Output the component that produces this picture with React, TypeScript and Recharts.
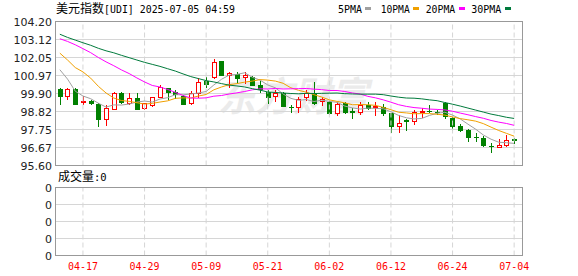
import React from 'react';
import { ComposedChart, Bar, Line, XAxis, YAxis, CartesianGrid, ReferenceLine } from 'recharts';

const dates = [
  '04-14','04-15','04-16','04-17','04-18','04-21','04-22','04-23','04-24','04-25','04-28','04-29','04-30',
  '05-01','05-02','05-05','05-06','05-07','05-08','05-09','05-12','05-13','05-14','05-15','05-16','05-19','05-20','05-21','05-22','05-23','05-26','05-27','05-28','05-29','05-30',
  '06-02','06-03','06-04','06-05','06-06','06-09','06-10','06-11','06-12','06-13','06-16','06-17','06-18','06-19','06-20','06-23','06-24','06-25','06-26','06-27','06-30',
  '07-01','07-02','07-03','07-04',
];
const opens = [
  100.15, 99.77, 100.17, 99.38, 99.47, 99.28, 98.39, 98.98, 99.91, 99.35,
  99.62, 99.02, 99.22, 99.71, 100.20, 99.97, 99.77, 99.35, 99.91, 100.66,
  100.86, 101.83, 100.99, 101.06, 100.86, 100.90, 100.40, 100.01, 99.75, 99.95,
  99.11, 99.08, 99.67, 99.91, 99.47, 99.41, 98.73, 99.35, 98.84, 98.82,
  99.22, 99.08, 99.08, 98.73, 97.93, 98.30, 98.23, 98.80, 98.86, 98.82,
  99.32, 98.43, 97.97, 97.73, 97.32, 97.24, 96.76, 96.72, 96.85, 97.16,
];
const highs = [
  100.22, 100.24, 100.22, 99.77, 99.52, 99.32, 99.22, 100.00, 99.98, 99.95,
  99.90, 99.35, 99.70, 100.40, 100.25, 100.08, 99.84, 100.05, 100.80, 100.86,
  101.99, 101.86, 101.17, 101.17, 101.17, 100.95, 100.66, 100.08, 100.11, 100.00,
  99.22, 99.67, 100.11, 100.56, 99.70, 99.45, 99.40, 99.41, 99.02, 99.41,
  99.41, 99.41, 99.30, 98.76, 98.62, 98.37, 98.90, 99.02, 99.22, 98.90,
  99.41, 98.50, 98.10, 97.80, 97.54, 97.35, 96.95, 97.18, 97.42, 97.24,
];
const lows = [
  99.26, 99.56, 99.25, 99.28, 99.28, 97.93, 98.03, 98.95, 99.33, 99.30,
  98.95, 98.98, 99.18, 99.68, 99.56, 99.65, 99.26, 99.26, 99.71, 100.27,
  100.80, 100.98, 100.30, 100.60, 100.50, 100.38, 100.00, 99.35, 99.47, 99.14,
  98.78, 98.82, 99.50, 99.30, 99.20, 98.68, 98.60, 98.72, 98.43, 98.70,
  98.95, 98.60, 98.60, 97.63, 97.63, 97.73, 98.10, 98.52, 98.80, 98.70,
  98.45, 97.73, 97.68, 97.04, 97.04, 96.78, 96.39, 96.70, 96.76, 96.95,
];
const closes = [
  99.77, 100.17, 99.28, 99.43, 99.32, 98.39, 99.02, 99.95, 99.38, 99.62,
  98.98, 99.32, 99.67, 100.27, 100.01, 99.87, 99.28, 99.91, 100.60, 100.46,
  101.79, 101.00, 101.13, 100.80, 101.00, 100.40, 100.17, 99.67, 99.95, 99.16,
  99.08, 99.57, 99.95, 99.35, 99.55, 98.73, 99.28, 98.82, 98.82, 99.22,
  99.02, 99.16, 98.73, 97.93, 98.13, 98.28, 98.82, 98.88, 98.84, 98.80,
  98.57, 97.97, 97.73, 97.30, 97.30, 96.80, 96.74, 96.80, 97.14, 97.12,
];
const ma5 = [
  101.32, 100.76, 100.04, 99.75, 99.59, 99.32, 99.09, 99.22, 99.21, 99.27,
  99.39, 99.45, 99.39, 99.57, 99.65, 99.83, 99.82, 99.87, 99.93, 100.02,
  100.41, 100.75, 101.00, 101.04, 101.14, 100.87, 100.70, 100.41, 100.24, 99.87,
  99.61, 99.49, 99.54, 99.42, 99.50, 99.43, 99.37, 99.15, 99.04, 98.97,
  99.03, 99.01, 98.99, 98.81, 98.59, 98.45, 98.38, 98.41, 98.59, 98.72,
  98.78, 98.61, 98.38, 98.07, 97.77, 97.42, 97.17, 96.99, 96.96, 96.92,
];
const ma10 = [
  102.31, 101.90, 101.45, 101.19, 100.82, 100.33, 99.93, 99.63, 99.48, 99.43,
  99.35, 99.27, 99.31, 99.39, 99.46, 99.61, 99.64, 99.63, 99.75, 99.84,
  100.12, 100.29, 100.43, 100.49, 100.58, 100.64, 100.73, 100.70, 100.64, 100.51,
  100.24, 100.09, 99.98, 99.83, 99.69, 99.52, 99.43, 99.34, 99.23, 99.24,
  99.23, 99.19, 99.07, 98.93, 98.78, 98.74, 98.69, 98.70, 98.70, 98.66,
  98.61, 98.50, 98.40, 98.33, 98.25, 98.10, 97.89, 97.69, 97.52, 97.35,
];
const ma20 = [
  103.17, 103.01, 102.81, 102.58, 102.34, 102.05, 101.79, 101.56, 101.31, 101.09,
  100.83, 100.59, 100.38, 100.29, 100.14, 99.97, 99.78, 99.63, 99.62, 99.64,
  99.74, 99.78, 99.87, 99.94, 100.02, 100.12, 100.18, 100.17, 100.20, 100.17,
  100.18, 100.19, 100.20, 100.16, 100.13, 100.08, 100.08, 100.02, 99.93, 99.87,
  99.73, 99.64, 99.52, 99.38, 99.23, 99.13, 99.06, 99.02, 98.97, 98.95,
  98.92, 98.84, 98.73, 98.63, 98.52, 98.42, 98.29, 98.19, 98.11, 98.00,
];
const ma30 = [
  103.44, 103.25, 103.09, 102.93, 102.78, 102.60, 102.45, 102.33, 102.18, 102.04,
  101.90, 101.76, 101.64, 101.52, 101.38, 101.24, 101.07, 100.91, 100.79, 100.67,
  100.59, 100.49, 100.40, 100.35, 100.29, 100.19, 100.10, 99.99, 99.96, 99.93,
  99.90, 99.88, 99.91, 99.90, 99.91, 99.92, 99.93, 99.89, 99.87, 99.86,
  99.86, 99.86, 99.83, 99.75, 99.68, 99.63, 99.62, 99.58, 99.52, 99.47,
  99.36, 99.26, 99.15, 99.03, 98.91, 98.79, 98.67, 98.58, 98.48, 98.41,
];
const volumes = [
  0,0,0,0,0,0,0,0,0,0, 0,0,0,0,0,0,0,0,0,0, 0,0,0,0,0,0,0,0,0,0,
  0,0,0,0,0,0,0,0,0,0, 0,0,0,0,0,0,0,0,0,0, 0,0,0,0,0,0,0,0,0,0,
];

const priceTicks = [95.6, 96.675, 97.75, 98.825, 99.9, 100.975, 102.05, 103.125, 104.2];
const priceTickLabels = ['95.60', '96.67', '97.75', '98.82', '99.90', '100.97', '102.05', '103.12', '104.20'];
const volTicks = [0, 1, 2, 3, 4];
const volTickLabels = ['0', '0', '0', '0', '0'];
const xLabels = ['04-17', '04-29', '05-09', '05-21', '06-02', '06-12', '06-24', '07-04'];
const legendLabels = ['5PMA', '10PMA', '20PMA', '30PMA'];
const maKeys = ['ma5', 'ma10', 'ma20', 'ma30'];
const maColors = ['#a0a0a0', '#f0a000', '#ff00ff', '#007a3c'];
const titleCJK = '美元指数';
const titleRest = '[UDI] 2025-07-05 04:59';
const volTitleCJK = '成交量';
const volTitleRest = ':0';
const watermark = '东方财富';

const rows = dates.map((d, i) => ({
  date: d,
  open: opens[i],
  high: highs[i],
  low: lows[i],
  close: closes[i],
  range: [lows[i], highs[i]],
  ma5: ma5[i],
  ma10: ma10[i],
  ma20: ma20[i],
  ma30: ma30[i],
  volume: volumes[i],
}));

const UP = '#ff0000';
const DOWN = '#008000';
const GRID = '#d6d6d6';
const BORDER = '#999999';
const MONO = '"DejaVu Sans Mono", monospace';
const CJK = '"Noto Sans CJK SC", sans-serif';
const NUM = '"DejaVu Sans", sans-serif';

const Candle = (props: any) => {
  const { x, y, width, height, payload } = props;
  if (!payload || height == null) return <g />;
  const { open, close, high, low } = payload;
  const ratio = high - low > 0 ? height / (high - low) : 0;
  const yOf = (v: number) => y + (high - v) * ratio;
  const cx = Math.round(x + width / 2);
  const up = close >= open;
  const color = up ? UP : DOWN;
  const top = Math.round(yOf(Math.max(open, close)));
  const bot = Math.round(yOf(Math.min(open, close)));
  const yHigh = Math.round(yOf(high));
  const yLow = Math.round(yOf(low));
  return (
    <g>
      <line x1={cx + 0.5} x2={cx + 0.5} y1={yHigh} y2={yLow + 1} stroke={color} strokeWidth={1} />
      {bot - top < 1 ? (
        <line x1={cx - 2} x2={cx + 3} y1={top + 0.5} y2={top + 0.5} stroke={color} strokeWidth={1} />
      ) : (
        <rect
          x={cx - 1.5}
          y={top + 0.5}
          width={4}
          height={bot - top}
          fill={up ? '#ffffff' : DOWN}
          stroke={color}
          strokeWidth={1}
        />
      )}
    </g>
  );
};

const PriceTick = (props: any) => {
  const { x, y, payload } = props;
  const idx = priceTicks.indexOf(payload.value);
  return (
    <text x={x} y={y} dy={4} textAnchor="end" fontFamily={NUM} fontSize={11} fill="#222">
      {priceTickLabels[idx]}
    </text>
  );
};

const VolTick = (props: any) => {
  const { x, y, payload } = props;
  const idx = volTicks.indexOf(payload.value);
  return (
    <text x={x} y={y} dy={4} textAnchor="end" fontFamily={NUM} fontSize={11} fill="#222">
      {volTickLabels[idx]}
    </text>
  );
};

const DateTick = (props: any) => {
  const { x, y, payload } = props;
  return (
    <text
      x={x}
      y={y}
      dy={14.5}
      textAnchor="middle"
      fontFamily={MONO}
      fontSize={11}
      fill="#ff0000"
      textLength={30}
      lengthAdjust="spacingAndGlyphs"
    >
      {payload.value}
    </text>
  );
};

const legendX = [338, 380.7, 425.7, 471.3];
const legendW = [24, 29, 29.5, 30];
const swatchX = [365, 413, 459, 505];

export default function App() {
  return (
    <div
      style={{
        position: 'absolute',
        left: 0,
        top: 0,
        width: 578,
        height: 276,
        background: '#ffffff',
        overflow: 'hidden',
      }}
    >
      <svg width={578} height={276} style={{ position: 'absolute', left: 0, top: 0 }}>
        <text
          x={218}
          y={111}
          fontFamily={CJK}
          fontSize={40}
          fontWeight="bold"
          fontStyle="italic"
          fill="#ebebeb"
          textLength={150}
          lengthAdjust="spacingAndGlyphs"
        >
          {watermark}
        </text>
      </svg>
      <div style={{ position: 'absolute', left: 0, top: 0 }}>
        <ComposedChart width={578} height={180} data={rows} margin={{ top: 21.5, right: 56, bottom: 14.5, left: 0 }}>
          <CartesianGrid vertical={false} stroke={GRID} />
          <XAxis dataKey="date" hide padding={{ left: 0, right: 4 }} />
          <YAxis
            domain={[95.6, 104.2]}
            ticks={priceTicks}
            interval={0}
            width={56}
            tickLine={false}
            axisLine={false}
            tickSize={0}
            tickMargin={4}
            tick={<PriceTick />}
            allowDataOverflow
          />
          {xLabels.map((d) => (
            <ReferenceLine key={d} x={d} stroke={GRID} strokeDasharray="5 3" ifOverflow="visible" />
          ))}
          <Bar dataKey="range" shape={<Candle />} isAnimationActive={false} />
          {maKeys.map((k, i) => (
            <Line
              key={k}
              dataKey={k}
              type="linear"
              dot={false}
              activeDot={false}
              stroke={maColors[i]}
              strokeWidth={1}
              isAnimationActive={false}
            />
          ))}
        </ComposedChart>
      </div>
      <div style={{ position: 'absolute', left: 0, top: 0 }}>
        <ComposedChart width={578} height={276} data={rows} margin={{ top: 187.5, right: 56, bottom: 0.5, left: 0 }}>
          <CartesianGrid vertical={false} stroke={GRID} />
          <XAxis
            dataKey="date"
            ticks={xLabels}
            interval={0}
            height={20}
            tickLine={false}
            axisLine={false}
            tickSize={0}
            tickMargin={0}
            tick={<DateTick />}
            padding={{ left: 0, right: 4 }}
          />
          <YAxis
            domain={[0, 4]}
            ticks={volTicks}
            interval={0}
            width={56}
            tickLine={false}
            axisLine={false}
            tickSize={0}
            tickMargin={4}
            tick={<VolTick />}
          />
          {xLabels.map((d) => (
            <ReferenceLine key={d} x={d} stroke={GRID} strokeDasharray="5 3" ifOverflow="visible" />
          ))}
          <Bar dataKey="volume" fill="#888888" isAnimationActive={false} />
        </ComposedChart>
      </div>
      <svg width={578} height={276} style={{ position: 'absolute', left: 0, top: 0 }}>
        <rect x={55.5} y={21.5} width={467} height={144} fill="none" stroke={BORDER} strokeWidth={1} />
        <rect x={55.5} y={187.5} width={467} height={68} fill="none" stroke={BORDER} strokeWidth={1} />
        <text x={56} y={13} fill="#000">
          <tspan fontFamily={CJK} fontSize={12}>{titleCJK}</tspan>
          <tspan fontFamily={MONO} fontSize={10.5} textLength={131} lengthAdjust="spacingAndGlyphs">{titleRest}</tspan>
        </text>
        {legendLabels.map((l, i) => (
          <g key={l}>
            <text
              x={legendX[i]}
              y={12.5}
              fontFamily={MONO}
              fontSize={10.5}
              fill="#000"
              textLength={legendW[i]}
              lengthAdjust="spacingAndGlyphs"
            >
              {l}
            </text>
            <rect x={swatchX[i]} y={7} width={6} height={3} fill={maColors[i]} />
          </g>
        ))}
        <text x={58} y={181} fill="#000">
          <tspan fontFamily={CJK} fontSize={12}>{volTitleCJK}</tspan>
          <tspan fontFamily={MONO} fontSize={10.5}>{volTitleRest}</tspan>
        </text>
      </svg>
    </div>
  );
}
